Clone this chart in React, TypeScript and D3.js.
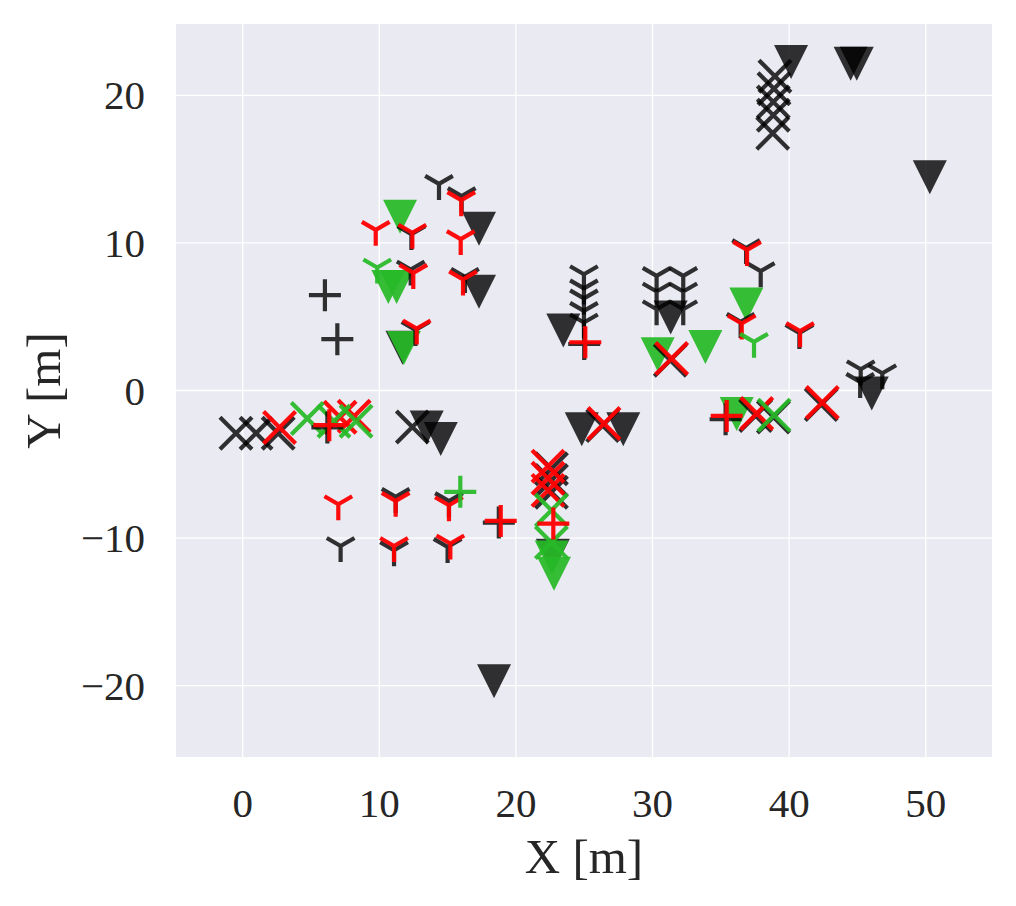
import React from "react";
import * as d3 from "d3";

// Figure geometry
const WIDTH = 1016;
const HEIGHT = 906;
const PLOT = { left: 176, right: 992, top: 24, bottom: 757 };
const X_DOMAIN: [number, number] = [-4.88, 54.85];
const Y_DOMAIN: [number, number] = [-24.84, 24.84];

const X_TICKS = [0, 10, 20, 30, 40, 50];
const Y_TICKS = [-20, -10, 0, 10, 20];

// Positions in metres, [x, y]
const blackTriangles: [number, number][] = [
  [40.14, 22.26], [44.5, 22.15], [44.95, 22.15], [50.3, 14.46],
  [17.3, 10.96], [17.3, 6.69], [23.47, 4.07], [31.33, 4.95],
  [24.82, -2.62], [27.86, -2.62], [46.05, -0.2], [13.47, -2.51],
  [14.5, -3.28], [18.4, -19.7], [22.7, -11.2], [11.7, 2.9],
];
const greenTriangles: [number, number][] = [
  [11.52, 11.77], [10.66, 7.02], [11.27, 7.02], [11.8, 2.88],
  [30.38, 2.46], [33.87, 2.94], [36.87, 5.83], [36.16, -1.59],
  [22.62, -11.32], [22.79, -12.42],
];

const blackCrosses: [number, number][] = [
  [-0.49, -2.89], [0.98, -2.89], [2.6, -2.89], [12.42, -2.47],
  [38.96, 21.3], [38.89, 20.45], [38.84, 19.56], [38.84, 18.66], [38.8, 17.44],
  [22.6, -5.3], [22.6, -6.1], [22.6, -6.9],
  [31.3, 2.05], [42.35, -0.95], [37.55, -1.7], [38.85, -1.8], [26.35, -2.38],
];
const redCrosses: [number, number][] = [
  [2.7, -2.51], [7.13, -1.82], [8.16, -1.74],
  [22.35, -5.13], [22.35, -5.95], [22.35, -6.77],
  [31.4, 2.17], [42.43, -0.81], [37.63, -1.56], [26.45, -2.24],
];
const greenCrosses: [number, number][] = [
  [4.73, -1.9], [6.68, -2.09], [8.3, -2.09],
  [22.6, -8.12], [22.6, -10.3], [38.9, -1.67],
];

const blackTris: [number, number][] = [
  [14.37, 14.0], [16.03, 13.17], [12.3, 8.2], [16.27, 7.7],
  [7.17, -10.54], [11.2, -7.21], [11.08, -10.83], [15.1, -7.5], [15.0, -10.6],
  [24.98, 7.88], [24.98, 6.92], [24.98, 6.24], [24.98, 5.4], [24.98, 4.61],
  [30.3, 7.77], [30.3, 6.71], [30.3, 5.51],
  [32.25, 7.77], [32.25, 6.71], [32.25, 5.51],
  [37.92, 8.09], [45.24, 1.44], [46.82, 1.17], [45.2, 0.58],
  [36.85, 9.65], [36.45, 4.65], [40.75, 3.9], [12.35, 10.6], [12.65, 4.1],
];
const redTris: [number, number][] = [
  [16.0, 12.9], [9.74, 10.89], [12.42, 10.69], [15.96, 10.26],
  [12.49, 7.97], [16.13, 7.53], [12.74, 4.2],
  [7.0, -7.71], [11.2, -7.48], [11.08, -10.54], [15.1, -7.78], [15.2, -10.37],
  [36.92, 9.53], [36.53, 4.54], [40.8, 4.02],
];
const greenTris: [number, number][] = [
  [9.85, 8.34], [37.43, 3.3],
];

const blackPluses: [number, number][] = [
  [6.02, 6.46], [6.93, 3.48],
  [6.2, -2.5], [18.75, -8.95], [25.0, 3.15], [35.35, -1.95],
];
const redPluses: [number, number][] = [
  [6.34, -2.35], [18.89, -8.84], [25.08, 3.27], [35.43, -1.72], [22.74, -9.02],
];
const greenPluses: [number, number][] = [
  [15.93, -6.87],
];

const BG = "#EAEAF2";
const BLACK = { color: "#000000", opacity: 0.8 };
const RED = { color: "#ff0000", opacity: 0.95 };
const GREEN = { color: "rgb(40,185,40)", opacity: 0.93 };

const FONT = '"Liberation Serif", "Times New Roman", Times, serif';
const MS = 32; // line-marker size in px
const TRI_MS = 34; // filled triangle size in px
const LW = 4.2;

type Kind = "v" | "x" | "1" | "+";

function markerPath(kind: Kind, s: number): string {
  const h = s / 2;
  switch (kind) {
    case "v":
      return `M0,${h}L${-h},${-h}L${h},${-h}Z`;
    case "x":
      return `M${-h},${-h}L${h},${h}M${-h},${h}L${h},${-h}`;
    case "+":
      return `M${-h},0L${h},0M0,${-h}L0,${h}`;
    case "1": {
      const a = 0.866 * h;
      return `M0,0L0,${h}M0,0L${-a},${-0.5 * h}M0,0L${a},${-0.5 * h}`;
    }
  }
}

export default function App() {
  const x = d3.scaleLinear().domain(X_DOMAIN).range([PLOT.left, PLOT.right]);
  const y = d3.scaleLinear().domain(Y_DOMAIN).range([PLOT.bottom, PLOT.top]);

  const layers: { kind: Kind; pts: [number, number][]; style: { color: string; opacity: number } }[] = [
    { kind: "v", pts: blackTriangles, style: BLACK },
    { kind: "v", pts: greenTriangles, style: GREEN },
    { kind: "x", pts: blackCrosses, style: BLACK },
    { kind: "x", pts: redCrosses, style: RED },
    { kind: "x", pts: greenCrosses, style: GREEN },
    { kind: "1", pts: blackTris, style: BLACK },
    { kind: "1", pts: redTris, style: RED },
    { kind: "1", pts: greenTris, style: GREEN },
    { kind: "+", pts: blackPluses, style: BLACK },
    { kind: "+", pts: redPluses, style: RED },
    { kind: "+", pts: greenPluses, style: GREEN },
  ];

  const fmt = (v: number) => (v < 0 ? "\u2212" + Math.abs(v) : String(v));
  const textStyle = { fontFamily: FONT };

  return (
    <svg
      width={WIDTH}
      height={HEIGHT}
      style={{ position: "absolute", left: 0, top: 0, background: "#ffffff" }}
    >
      <defs>
        <clipPath id="plot-clip">
          <rect
            x={PLOT.left}
            y={PLOT.top}
            width={PLOT.right - PLOT.left}
            height={PLOT.bottom - PLOT.top}
          />
        </clipPath>
      </defs>
      <rect
        x={PLOT.left}
        y={PLOT.top}
        width={PLOT.right - PLOT.left}
        height={PLOT.bottom - PLOT.top}
        fill={BG}
      />
      <g stroke="#ffffff" strokeWidth={1.3}>
        {X_TICKS.map((t) => (
          <line key={"gx" + t} x1={x(t)} x2={x(t)} y1={PLOT.top} y2={PLOT.bottom} />
        ))}
        {Y_TICKS.map((t) => (
          <line key={"gy" + t} x1={PLOT.left} x2={PLOT.right} y1={y(t)} y2={y(t)} />
        ))}
      </g>

      <g clipPath="url(#plot-clip)">
        {layers.map((layer, li) =>
          layer.pts.map((p, i) => {
            const filled = layer.kind === "v";
            const d = markerPath(layer.kind, filled ? TRI_MS : MS);
            return (
              <path
                key={`${li}-${i}`}
                d={d}
                transform={`translate(${x(p[0])},${y(p[1])})`}
                fill={filled ? layer.style.color : "none"}
                fillOpacity={filled ? layer.style.opacity : undefined}
                stroke={filled ? "none" : layer.style.color}
                strokeOpacity={filled ? undefined : layer.style.opacity}
                strokeWidth={filled ? 0 : LW}
                strokeLinecap="butt"
              />
            );
          })
        )}
      </g>

      <g style={textStyle} fontSize={41} fill="#262626">
        {X_TICKS.map((t) => (
          <text key={"tx" + t} x={x(t)} y={817} textAnchor="middle">
            {fmt(t)}
          </text>
        ))}
        {Y_TICKS.map((t) => (
          <text key={"ty" + t} x={145} y={y(t) + 14} textAnchor="end">
            {fmt(t)}
          </text>
        ))}
      </g>

      <text
        x={(PLOT.left + PLOT.right) / 2}
        y={873}
        textAnchor="middle"
        style={textStyle}
        fontSize={49}
        fill="#262626"
      >
        X [m]
      </text>
      <text
        transform={`translate(60,${(PLOT.top + PLOT.bottom) / 2}) rotate(-90)`}
        textAnchor="middle"
        style={textStyle}
        fontSize={49}
        fill="#262626"
      >
        Y [m]
      </text>
    </svg>
  );
}
